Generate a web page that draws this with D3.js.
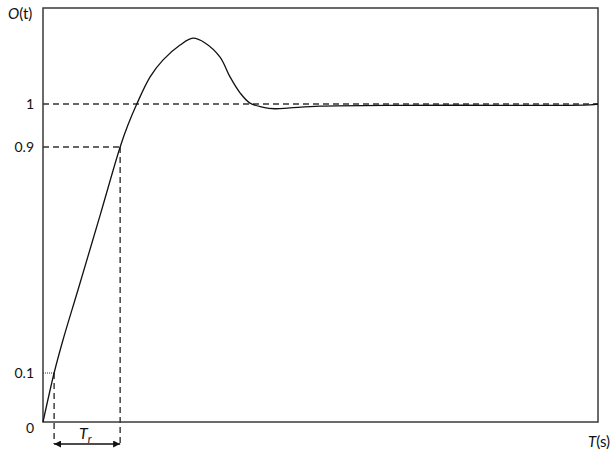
<!DOCTYPE html>
<html>
<head>
<meta charset="utf-8">
<script src="https://cdn.jsdelivr.net/npm/d3@7"></script>
<style>
  html, body { margin: 0; padding: 0; background: #fff; }
  svg { display: block; font-family: Lato, "Open Sans", sans-serif; }
</style>
</head>
<body>
<svg id="chart" width="613" height="454"></svg>
<script>
// ---- data ----
const time = [0, 0.20, 0.36, 0.63, 1.03, 1.39, 1.53, 1.69, 1.93, 2.16, 2.47, 2.70, 2.92, 3.19, 3.37, 3.55, 3.73, 3.95, 4.18, 4.45, 4.99, 6.43, 8.23, 9.86, 10];
const output = [0, 0.1, 0.217, 0.394, 0.659, 0.9, 0.951, 1.0, 1.063, 1.102, 1.137, 1.153, 1.142, 1.109, 1.063, 1.026, 1.002, 0.993, 0.989, 0.991, 0.995, 0.997, 0.997, 0.998, 1.0];
const yTickValues = [0, 0.1, 0.9, 1];
const yTickLabels = ["0", "0.1", "0.9", "1"];
const riseStart = 0.20;   // time at 10 %
const riseEnd = 1.39;     // time at 90 %
const timeMax = 10;

// ---- layout ----
const svg = d3.select("#chart");
const mLeft = 43, mRight = 598, mTop = 8, mBottom = 422;
const axisColor = "#3a3a3a";

const x = d3.scaleLinear().domain([0, timeMax]).range([mLeft, mRight]);
// schematic (non-uniform) output axis, as in the reference
const y = d3.scaleLinear().domain(yTickValues).range([422, 373, 147, 104]);

// arrow markers
const defs = svg.append("defs");
["start", "end"].forEach(k => {
  defs.append("marker")
    .attr("id", "arr-" + k)
    .attr("viewBox", "0 0 10 10")
    .attr("refX", k === "end" ? 10 : 0).attr("refY", 5)
    .attr("markerWidth", 7).attr("markerHeight", 7)
    .attr("markerUnits", "userSpaceOnUse")
    .attr("orient", "auto")
    .append("path")
    .attr("d", k === "end" ? "M0,0 L10,5 L0,10 Z" : "M10,0 L0,5 L10,10 Z")
    .attr("fill", "#111");
});

// frame
svg.append("rect")
  .attr("x", mLeft).attr("y", mTop)
  .attr("width", mRight - mLeft).attr("height", mBottom - mTop)
  .attr("fill", "none").attr("stroke", axisColor).attr("stroke-width", 1.5);

// reference lines
const g = svg.append("g");
g.append("line")
  .attr("x1", x(0)).attr("x2", x(timeMax)).attr("y1", y(1)).attr("y2", y(1))
  .attr("stroke", "#333").attr("stroke-width", 1.4).attr("stroke-dasharray", "6,4");
g.append("line")
  .attr("x1", x(0)).attr("x2", x(riseEnd)).attr("y1", y(0.9)).attr("y2", y(0.9))
  .attr("stroke", "#333").attr("stroke-width", 1.4).attr("stroke-dasharray", "6,4");
g.append("line")
  .attr("x1", x(0)).attr("x2", x(riseStart)).attr("y1", y(0.1)).attr("y2", y(0.1))
  .attr("stroke", "#333").attr("stroke-width", 1).attr("stroke-dasharray", "1,1");

const arrowY = 444;
g.append("line")
  .attr("x1", x(riseEnd)).attr("x2", x(riseEnd)).attr("y1", y(0.9)).attr("y2", arrowY)
  .attr("stroke", "#333").attr("stroke-width", 1.4).attr("stroke-dasharray", "6,4");
g.append("line")
  .attr("x1", x(riseStart)).attr("x2", x(riseStart)).attr("y1", y(0.1)).attr("y2", arrowY)
  .attr("stroke", "#333").attr("stroke-width", 1.4).attr("stroke-dasharray", "6,4");

// Tr arrow
g.append("line")
  .attr("x1", x(riseStart)).attr("x2", x(riseEnd)).attr("y1", arrowY).attr("y2", arrowY)
  .attr("stroke", "#111").attr("stroke-width", 1.4)
  .attr("marker-start", "url(#arr-start)").attr("marker-end", "url(#arr-end)");

// response curve
const line = d3.line()
  .x((d, i) => x(time[i]))
  .y(d => y(d))
  .curve(d3.curveCatmullRom.alpha(0.5));
svg.append("path")
  .datum(output)
  .attr("d", line)
  .attr("fill", "none").attr("stroke", "#111").attr("stroke-width", 1.3);

// tick labels
const tickDy = { "0": 11, "0.1": 5, "0.9": 5, "1": 5 };
svg.selectAll("text.ytick")
  .data(yTickValues)
  .enter().append("text")
  .attr("class", "ytick")
  .attr("x", 34)
  .attr("y", (d) => y(d) + tickDy[String(d)])
  .attr("text-anchor", "end")
  .attr("font-size", 14)
  .attr("fill", "#111")
  .text((d, i) => yTickLabels[i]);

// axis titles
const yt = svg.append("text").attr("x", 8).attr("y", 19).attr("font-size", 15).attr("fill", "#111");
yt.append("tspan").attr("font-style", "italic").text("O");
yt.append("tspan").text("(t)");

const xt = svg.append("text").attr("x", 588).attr("y", 447).attr("font-size", 15).attr("fill", "#111");
xt.append("tspan").attr("font-style", "italic").text("T");
xt.append("tspan").text("(s)");

const tr = svg.append("text")
  .attr("x", (x(riseStart) + x(riseEnd)) / 2 - 8).attr("y", 439)
  .attr("font-size", 16).attr("fill", "#111");
tr.append("tspan").attr("font-style", "italic").text("T");
tr.append("tspan").attr("font-style", "italic").attr("font-size", 11).attr("dy", 4).text("r");
</script>
</body>
</html>
